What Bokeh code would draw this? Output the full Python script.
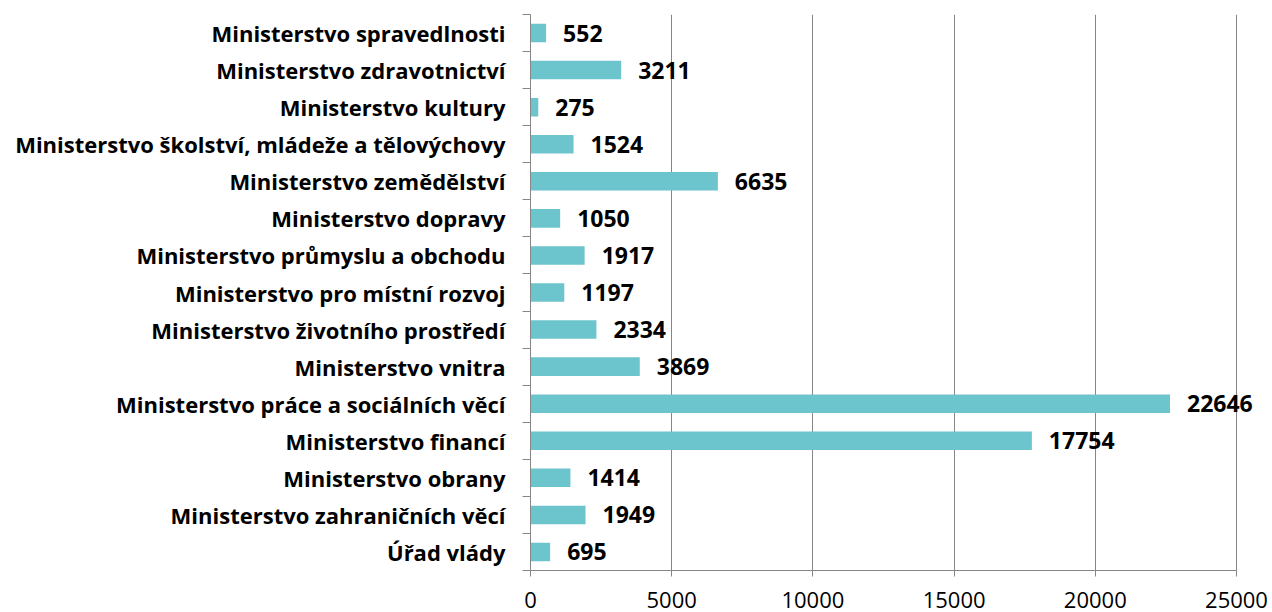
from bokeh.plotting import figure
from bokeh.models import Range1d, FixedTicker, ColumnDataSource, LabelSet
from bokeh.core.properties import value
from bokeh.embed import file_html
from bokeh.resources import INLINE

categories = [
    "Ministerstvo spravedlnosti",
    "Ministerstvo zdravotnictví",
    "Ministerstvo kultury",
    "Ministerstvo školství, mládeže a tělovýchovy",
    "Ministerstvo zemědělství",
    "Ministerstvo dopravy",
    "Ministerstvo průmyslu a obchodu",
    "Ministerstvo pro místní rozvoj",
    "Ministerstvo životního prostředí",
    "Ministerstvo vnitra",
    "Ministerstvo práce a sociálních věcí",
    "Ministerstvo financí",
    "Ministerstvo obrany",
    "Ministerstvo zahraničních věcí",
    "Úřad vlády",
]
values = [552, 3211, 275, 1524, 6635, 1050, 1917, 1197, 2334, 3869, 22646, 17754, 1414, 1949, 695]
x_ticks = [0, 5000, 10000, 15000, 20000, 25000]

FONT = "Open Sans"
BAR = "#6cc4cd"
GRAY = "#868686"

n = len(categories)
# category slot positions (top category at top)
pos = [n - 1 - i + 0.5 for i in range(n)]

AXIS_MAX = x_ticks[-1]
LEFT, AXIS_PX, W = 530, 706, 1272
x_end = AXIS_MAX * (W - LEFT) / AXIS_PX  # let the frame reach the page edge so labels are not clipped

p = figure(width=W, height=612, output_backend="svg", toolbar_location=None,
           x_range=Range1d(0, x_end), y_range=Range1d(0, n),
           min_border_left=LEFT, min_border_right=0,
           min_border_top=14, min_border_bottom=42)
p.outline_line_color = None
p.background_fill_color = "white"

ya = p.yaxis[0]
ya.ticker = FixedTicker(ticks=pos, minor_ticks=list(range(n + 1)))
ya.major_label_overrides = {c: name for c, name in zip(pos, categories)}
ya.major_tick_out = 0
ya.major_tick_in = 0
ya.minor_tick_out = 8
ya.minor_tick_in = 0
ya.minor_tick_line_color = GRAY
ya.axis_line_color = GRAY
ya.major_label_standoff = 17
ya.major_label_text_font = FONT
ya.major_label_text_font_style = "bold"
ya.major_label_text_font_size = "22px"
ya.major_label_text_color = "black"

xa = p.xaxis[0]
xa.ticker = FixedTicker(ticks=x_ticks)
xa.bounds = (0, AXIS_MAX)
xa.axis_line_color = GRAY
xa.major_tick_line_color = GRAY
xa.major_tick_out = 6
xa.major_tick_in = 0
xa.minor_tick_line_color = None
xa.major_label_standoff = 15
xa.major_label_text_font = FONT
xa.major_label_text_font_size = "22px"
xa.major_label_text_color = "black"

p.xgrid.ticker = FixedTicker(ticks=x_ticks)
p.xgrid.grid_line_color = GRAY
p.ygrid.grid_line_color = None

src = ColumnDataSource(dict(y=pos, val=values, lab=[str(v) for v in values]))
p.hbar(y="y", right="val", left=0, height=0.5, source=src, fill_color=BAR, line_color=None)
labels = LabelSet(x="val", y="y", text="lab", source=src, x_offset=17, text_baseline="middle",
                  text_align="left", text_font=value(FONT), text_font_style="bold",
                  text_font_size="23px", text_color="black")
p.add_layout(labels)

open("out.html", "w").write(file_html(p, INLINE))
